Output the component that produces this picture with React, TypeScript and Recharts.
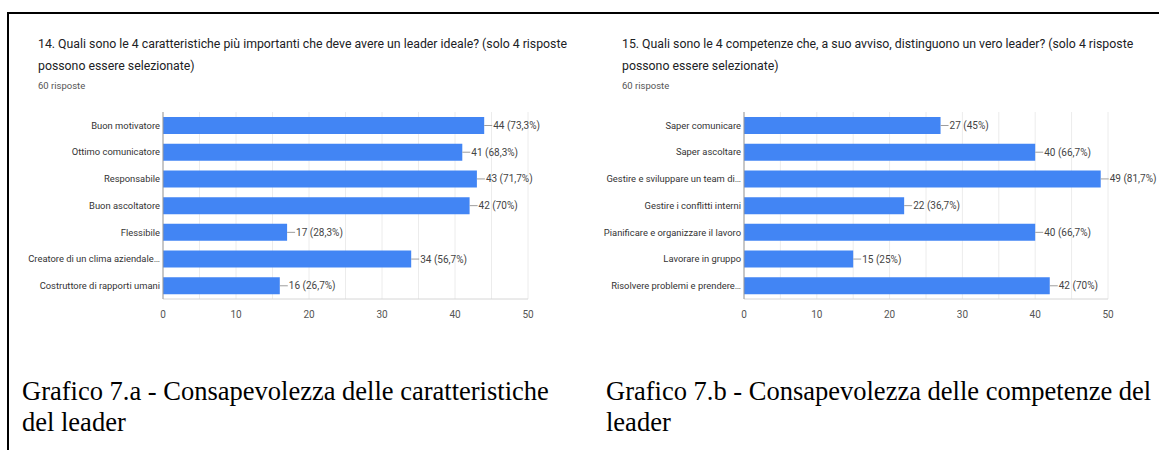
import React from 'react';
import { BarChart, Bar, XAxis, YAxis, CartesianGrid, LabelList } from 'recharts';

const TOTAL = 60;
const TICKS = [0, 10, 20, 30, 40, 50];
const GRID_STEPS = [0, 5, 10, 15, 20, 25, 30, 35, 40, 45, 50];

const leaderTraits = [
  'Buon motivatore',
  'Ottimo comunicatore',
  'Responsabile',
  'Buon ascoltatore',
  'Flessibile',
  'Creatore di un clima aziendale…',
  'Costruttore di rapporti umani',
];
const leaderTraitCounts = [44, 41, 43, 42, 17, 34, 16];

const leaderSkills = [
  'Saper comunicare',
  'Saper ascoltare',
  'Gestire e sviluppare un team di…',
  'Gestire i conflitti interni',
  'Pianificare e organizzare il lavoro',
  'Lavorare in gruppo',
  'Risolvere problemi e prendere…',
];
const leaderSkillCounts = [27, 40, 49, 22, 40, 15, 42];

const FONT = 'Roboto, "Noto Sans", Arial, sans-serif';
const BLUE = '#4285f4';

const pct = (v: number) => {
  const p = Math.round((v / TOTAL) * 1000) / 10;
  return String(p).replace('.', ',') + '%';
};

const ValueLabel = (props: any) => {
  const { x, y, width, height, value } = props;
  const ex = Number(x) + Number(width);
  const cy = Number(y) + Number(height) / 2;
  return (
    <g>
      <line x1={ex} y1={cy} x2={ex + 8} y2={cy} stroke="#9e9e9e" strokeWidth={1} />
      <text x={ex + 9} y={cy} dy="0.35em" fontSize={10} fill="#444" fontFamily={FONT}>
        {`${value} (${pct(Number(value))})`}
      </text>
    </g>
  );
};

// single-line category tick, recharts would wrap the long ones
const CategoryTick = (props: any) => {
  const { x, y, payload } = props;
  return (
    <text x={x} y={y} dy="0.35em" textAnchor="end" fontSize={9.4} fill="#333" fontFamily={FONT}>
      {payload.value}
    </text>
  );
};

interface PanelProps {
  labels: string[];
  counts: number[];
  width: number;
  axisWidth: number;
  rightMargin: number;
}

const Panel: React.FC<PanelProps> = ({ labels, counts, width, axisWidth, rightMargin }) => {
  const data = labels.map((name, i) => ({ name, value: counts[i] }));
  return (
    <BarChart
      layout="vertical"
      width={width}
      height={225}
      data={data}
      margin={{ top: 12, right: rightMargin, left: 0, bottom: 6 }}
    >
      <CartesianGrid
        horizontal={false}
        stroke="#ececec"
        verticalCoordinatesGenerator={({ offset }: any) =>
          GRID_STEPS.map((v) => offset.left + (v / 50) * offset.width)
        }
      />
      <XAxis
        type="number"
        domain={[0, 50]}
        ticks={TICKS}
        axisLine={{ stroke: '#d6d6d6' }}
        tickLine={false}
        tickMargin={6}
        tick={{ fontSize: 10, fill: '#555', fontFamily: FONT }}
        height={20}
      />
      <YAxis
        type="category"
        dataKey="name"
        width={axisWidth}
        axisLine={{ stroke: '#9a9a9a' }}
        tickLine={false}
        tickSize={2}
        tickMargin={1}
        interval={0}
        tick={<CategoryTick />}
      />
      <Bar dataKey="value" fill={BLUE} barSize={17} isAnimationActive={false}>
        <LabelList dataKey="value" content={ValueLabel} />
      </Bar>
    </BarChart>
  );
};

const titleStyle: React.CSSProperties = {
  position: 'absolute',
  fontFamily: FONT,
  fontSize: 12.3,
  lineHeight: '22px',
  color: '#202124',
  width: 545,
};

const countStyle: React.CSSProperties = {
  display: 'block',
  fontSize: 9.5,
  lineHeight: '17px',
  color: '#555',
};

const captionStyle: React.CSSProperties = {
  position: 'absolute',
  fontFamily: '"Liberation Serif", "Times New Roman", serif',
  fontSize: 26.5,
  lineHeight: '31px',
  color: '#000',
};

export default function App() {
  return (
    <div
      style={{
        position: 'absolute',
        left: 0,
        top: 0,
        width: 1159,
        height: 450,
        background: '#fff',
        overflow: 'hidden',
      }}
    >
      <div style={{ position: 'absolute', left: 7, top: 12, width: 1152, height: 2, background: '#000' }} />
      <div style={{ position: 'absolute', left: 7, top: 12, width: 2, height: 438, background: '#000' }} />

      <div style={{ ...titleStyle, left: 38, top: 33 }}>
        14. Quali sono le 4 caratteristiche più importanti che deve avere un leader ideale? (solo 4 risposte
        possono essere selezionate)
        <span style={countStyle}>60 risposte</span>
      </div>
      <div style={{ ...titleStyle, left: 622, top: 33 }}>
        15. Quali sono le 4 competenze che, a suo avviso, distinguono un vero leader? (solo 4 risposte
        possono essere selezionate)
        <span style={countStyle}>60 risposte</span>
      </div>

      <div style={{ position: 'absolute', left: 0, top: 100 }}>
        <Panel labels={leaderTraits} counts={leaderTraitCounts} width={580} axisWidth={163} rightMargin={52} />
      </div>
      <div style={{ position: 'absolute', left: 580, top: 100 }}>
        <Panel labels={leaderSkills} counts={leaderSkillCounts} width={579} axisWidth={164} rightMargin={51} />
      </div>

      <div style={{ ...captionStyle, left: 22, top: 376, width: 548 }}>
        Grafico 7.a - Consapevolezza delle caratteristiche del leader
      </div>
      <div style={{ ...captionStyle, left: 606, top: 376, width: 552 }}>
        Grafico 7.b - Consapevolezza delle competenze del leader
      </div>
    </div>
  );
}
